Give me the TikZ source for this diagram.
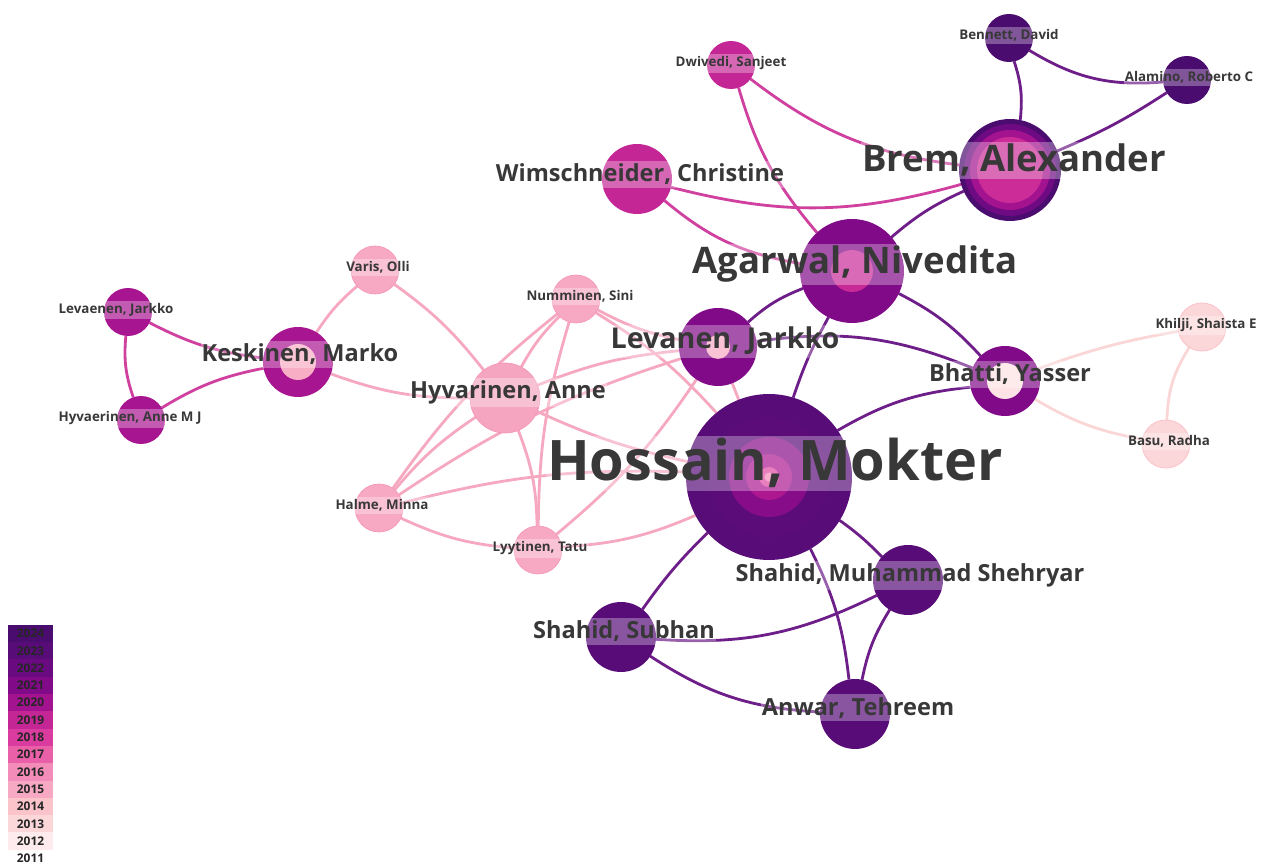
\documentclass[tikz,border=0pt]{standalone}
\usepackage{fontspec}
\setmainfont{Open Sans}
\pgfdeclarelayer{bg}\pgfdeclarelayer{fg}\pgfsetlayers{bg,main,fg}
\definecolor{yA}{HTML}{4A0C6E}
\definecolor{yB}{HTML}{580C78}
\definecolor{yC}{HTML}{690A80}
\definecolor{yD}{HTML}{800A88}
\definecolor{yE}{HTML}{A3128F}
\definecolor{yF}{HTML}{C42696}
\definecolor{yG}{HTML}{DA3B9E}
\definecolor{yH}{HTML}{EA60A8}
\definecolor{yI}{HTML}{F38CB8}
\definecolor{yJ}{HTML}{F7A9C3}
\definecolor{yK}{HTML}{FBC4CB}
\definecolor{yL}{HTML}{FCD7D9}
\definecolor{yM}{HTML}{FEEBED}
\definecolor{lblc}{HTML}{383838}
\definecolor{edpu}{HTML}{6E1E88}
\definecolor{edmg}{HTML}{D0419F}
\definecolor{edpk}{HTML}{F6A8C0}
\definecolor{edlp}{HTML}{FAD6D6}
\begin{document}
\begin{tikzpicture}[x=0.02cm,y=0.02cm,
  bub/.style={circle,inner sep=0,outer sep=0},
  lbl/.style={anchor=base,fill=white,fill opacity=0.3,text opacity=1,text=lblc,inner xsep=0.5pt,inner ysep=0.15em},
  fxl/.style={lbl,font=\fontsize{31.8}{34}\selectfont\bfseries},
  flg/.style={lbl,font=\fontsize{20.8}{23}\selectfont\bfseries},
  flv/.style={lbl,font=\fontsize{16.3}{18}\selectfont\bfseries},
  fmd/.style={lbl,font=\fontsize{13.4}{15}\selectfont\bfseries},
  fsm/.style={lbl,font=\fontsize{7.6}{9}\selectfont\bfseries},
  edge/.style={line width=1.6pt},
  epu/.style={edge,draw=edpu},
  emg/.style={edge,draw=edmg},
  epk/.style={edge,draw=edpk},
  elp/.style={edge,draw=edlp},
  legbox/.style={minimum width=0.9cm,minimum height=0.346cm,inner sep=0,font=\fontsize{6.8}{8}\selectfont\bfseries,text=black!85}]
\useasboundingbox (0,0) rectangle (1266,865);
% ---------- nodes ----------
\node[bub,fill=yB,minimum size=3.32cm] (hossain) at (769,388) {};
\fill[yB!85!yC] (hossain.center) circle (1.2cm);
\fill[yD!80!yE] (hossain.center) circle (0.8cm);
\fill[yE!70!yF] (hossain.center) circle (0.46cm);
\fill[yG!60!yH] (hossain.center) circle (0.2cm);
\fill[yI] (hossain.center) circle (0.09cm);
\node[bub,fill=yA,minimum size=2.04cm] (brem) at (1010,695) {};
\fill[yC!80!yD] (brem.center) circle (0.92cm);
\fill[yE] (brem.center) circle (0.8cm);
\fill[yF!70!yG] (brem.center) circle (0.66cm);
\node[bub,fill=yD,minimum size=2.08cm] (agarwal) at (852,594) {};
\fill[yF!80!yG] (agarwal.center) circle (0.42cm);
\node[bub,fill=yD,minimum size=1.56cm] (levanen) at (718,518) {};
\fill[yJ] (levanen.center) circle (0.24cm);
\node[bub,fill=yE!85!yF,minimum size=1.4cm] (keskinen) at (298,503) {};
\fill[yJ!80!yK] (keskinen.center) circle (0.36cm);
\node[bub,fill=yD,minimum size=1.4cm] (bhatti) at (1005,484) {};
\fill[yM!60!yL] (bhatti.center) circle (0.36cm);
\node[bub,fill=yJ!85!yI,draw=yI!70!yJ,line width=0.4pt,minimum size=1.4cm] (hyvarinen) at (505,467) {};
\node[bub,fill=yJ,draw=yI!60!yJ,line width=0.4pt,minimum size=0.96cm] (varis) at (375,595) {};
\node[bub,fill=yJ,draw=yI!60!yJ,line width=0.4pt,minimum size=0.96cm] (numminen) at (576,566) {};
\node[bub,fill=yJ,draw=yI!60!yJ,line width=0.4pt,minimum size=0.96cm] (halme) at (379,357) {};
\node[bub,fill=yJ,draw=yI!60!yJ,line width=0.4pt,minimum size=0.96cm] (lyytinen) at (538,315) {};
\node[bub,fill=yE!85!yF,minimum size=0.96cm] (levaenen) at (128,553) {};
\node[bub,fill=yE!85!yF,minimum size=0.96cm] (hyvaerinen) at (141,445) {};
\node[bub,fill=yF,minimum size=0.96cm] (dwivedi) at (731,800) {};
\node[bub,fill=yA,minimum size=0.96cm] (bennett) at (1009,827) {};
\node[bub,fill=yA,minimum size=0.96cm] (alamino) at (1187,785) {};
\node[bub,fill=yL,draw=yK,line width=0.5pt,minimum size=0.96cm] (khilji) at (1202,538) {};
\node[bub,fill=yL,draw=yK,line width=0.5pt,minimum size=0.96cm] (basu) at (1166,421) {};
\node[bub,fill=yF,minimum size=1.4cm] (wimsch) at (637,686) {};
\node[bub,fill=yB,minimum size=1.4cm] (shahidm) at (908,285) {};
\node[bub,fill=yB,minimum size=1.4cm] (shahids) at (621,228) {};
\node[bub,fill=yB,minimum size=1.4cm] (anwar) at (855,151) {};
% ---------- edges ----------
\begin{pgfonlayer}{bg}
\draw[epu] (bennett) to[bend right=18] (alamino);
\draw[epu] (brem) to[bend right=12] (bennett);
\draw[epu] (alamino) to[bend left=5] (brem);
\draw[epu] (agarwal) to[bend left=8] (brem);
\draw[epu] (hossain) to[bend left=5] (agarwal);
\draw[epu] (levanen) to[bend left=10] (agarwal);
\draw[epu] (bhatti) to[bend right=15] (levanen);
\draw[epu] (agarwal) to[bend left=10] (bhatti);
\draw[epu] (bhatti) to[bend right=12] (hossain);
\draw[epu] (hossain) to[bend left=5] (shahidm);
\draw[epu] (hossain) to[bend right=5] (shahids);
\draw[epu] (hossain) to[bend left=10] (anwar);
\draw[epu] (shahids) to[bend right=15] (shahidm);
\draw[epu] (shahids) to[bend right=15] (anwar);
\draw[epu] (shahidm) to[bend right=10] (anwar);
\draw[emg] (dwivedi) to[bend right=12] (agarwal);
\draw[emg] (dwivedi) to[bend right=15] (brem);
\draw[emg] (wimsch) to[bend right=15] (brem);
\draw[emg] (wimsch) to[bend right=15] (agarwal);
\draw[emg] (levaenen) to[bend right=12] (hyvaerinen);
\draw[emg] (levaenen) to[bend right=10] (keskinen);
\draw[emg] (keskinen) to[bend right=10] (hyvaerinen);
\draw[epk] (varis) to[bend right=8] (keskinen);
\draw[epk] (varis) to[bend left=8] (hyvarinen);
\draw[epk] (keskinen) to[bend right=10] (hyvarinen);
\draw[epk] (hyvarinen) to[bend left=8] (numminen);
\draw[epk] (hyvarinen) to[bend right=8] (halme);
\draw[epk] (hyvarinen) to[bend left=10] (lyytinen);
\draw[epk] (hyvarinen) to[bend left=8] (levanen);
\draw[epk] (hyvarinen) to[bend right=6] (hossain);
\draw[epk] (numminen) to[bend right=8] (halme);
\draw[epk] (numminen) to[bend right=8] (lyytinen);
\draw[epk] (numminen) to[bend right=8] (levanen);
\draw[epk] (numminen) to[bend left=8] (hossain);
\draw[epk] (halme) to[bend right=10] (lyytinen);
\draw[epk] (halme) to[bend left=8] (levanen);
\draw[epk] (halme) to[bend left=8] (hossain);
\draw[epk] (lyytinen) to[bend right=8] (levanen);
\draw[epk] (lyytinen) to[bend right=10] (hossain);
\draw[epk] (levanen) -- (hossain);
\draw[elp] (bhatti) to[bend left=5] (khilji);
\draw[elp] (bhatti) to[bend right=10] (basu);
\draw[elp] (khilji) to[bend right=15] (basu);
\end{pgfonlayer}
% ---------- labels ----------
\begin{pgfonlayer}{fg}
\node[fxl] (l-hossain) at (775,384) {Hossain, Mokter};
\node[flg] (l-brem) at (1014,693) {Brem, Alexander};
\node[flg] (l-agarwal) at (855,591) {Agarwal, Nivedita};
\node[flv] (l-levanen) at (725,516) {Levanen, Jarkko};
\node[fmd] (l-wimsch) at (640,683) {Wimschneider, Christine};
\node[fmd] (l-keskinen) at (300,503) {Keskinen, Marko};
\node[fmd] (l-hyvarinen) at (508,466) {Hyvarinen, Anne};
\node[fmd] (l-bhatti) at (1010,483) {Bhatti, Yasser};
\node[fmd] (l-shahidm) at (910,283) {Shahid, Muhammad Shehryar};
\node[fmd] (l-shahids) at (624,226) {Shahid, Subhan};
\node[fmd] (l-anwar) at (858,150) {Anwar, Tehreem};
\node[fsm] (l-varis) at (378,593) {Varis, Olli};
\node[fsm] (l-numminen) at (580,564) {Numminen, Sini};
\node[fsm] (l-halme) at (382,355) {Halme, Minna};
\node[fsm] (l-lyytinen) at (540,313) {Lyytinen, Tatu};
\node[fsm] (l-levaenen) at (116,551) {Levaenen, Jarkko};
\node[fsm] (l-hyvaerinen) at (130,443) {Hyvaerinen, Anne M J};
\node[fsm] (l-dwivedi) at (731,798) {Dwivedi, Sanjeet};
\node[fsm] (l-bennett) at (1009,825) {Bennett, David};
\node[fsm] (l-alamino) at (1189,783) {Alamino, Roberto C};
\node[fsm] (l-khilji) at (1206,536) {Khilji, Shaista E};
\node[fsm] (l-basu) at (1169,419) {Basu, Radha};
\end{pgfonlayer}
% ---------- legend ----------
\foreach \c/\yr [count=\i from 0] in {yA/2024,yB/2023,yC/2022,yD/2021,yE/2020,yF/2019,yG/2018,yH/2017,yI/2016,yJ/2015,yK/2014,yL/2013,yM/2012,white/2011}{
  \node[legbox,fill=\c] (leg\i) at (30.5,{231.5-17.3*\i}) {\yr};
}
\end{tikzpicture}
\end{document}
